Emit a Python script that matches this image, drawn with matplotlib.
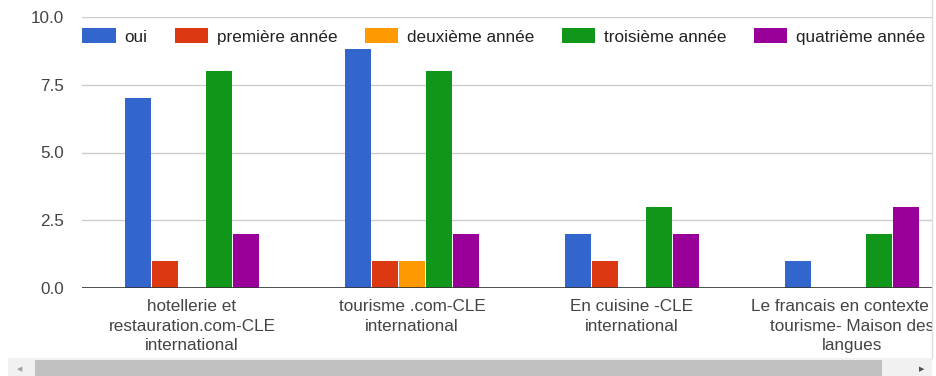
import matplotlib.pyplot as plt
from matplotlib.patches import Rectangle
from matplotlib.lines import Line2D

plt.rcParams['font.family'] = ['Liberation Sans', 'DejaVu Sans']

categories = ['hotellerie et\nrestauration.com-CLE\ninternational',
              'tourisme .com-CLE\ninternational',
              'En cuisine -CLE\ninternational',
              'Le francais en contexte de\ntourisme- Maison des\nlangues']
series = ['oui', 'première année', 'deuxième année', 'troisième année', 'quatrième année']
values = [
    [7, 9, 2, 1],
    [1, 1, 1, 0],
    [0, 1, 0, 0],
    [8, 8, 3, 2],
    [2, 2, 2, 3],
]
colors = ['#3366cc', '#dc3912', '#ff9900', '#109618', '#990099']

W, H = 937, 376
fig = plt.figure(figsize=(W / 100, H / 100), dpi=100)
# plot area runs past the right edge, like the scrolled chart
ax = fig.add_axes([82 / W, 88 / H, 880 / W, 271 / H])

step = 27 / 220
bw = 26 / 220
idx = range(len(categories))
for k, (name, vals, c) in enumerate(zip(series, values, colors)):
    ax.bar([i + (k - 2) * step for i in idx], vals, bw, color=c, label=name, zorder=3)

ax.set_xlim(-0.5, len(categories) - 0.5)
ax.set_ylim(0, 10)
ax.set_yticks([0, 2.5, 5, 7.5, 10])
ax.set_yticklabels([f'{t:.1f}' for t in [0, 2.5, 5, 7.5, 10]])
ax.set_xticks(list(idx))
ax.set_xticklabels(categories, linespacing=1.38)
ax.tick_params(axis='both', length=0, labelsize=12.3, colors='#444444')
ax.tick_params(axis='y', pad=13)
ax.tick_params(axis='x', pad=8)
for s in ax.spines.values():
    s.set_visible(False)
ax.grid(axis='y', color='#cccccc', linewidth=1, zorder=0)
ax.axhline(0, color='#333333', linewidth=1.2, zorder=4)

leg = ax.legend(loc='upper left', bbox_to_anchor=(-0.0045, 0.974), ncol=5, frameon=True,
                fontsize=12.3, handlelength=1.95, handleheight=0.95, handletextpad=0.5,
                columnspacing=1.62, borderaxespad=0, borderpad=0.25, fancybox=False)
leg.get_frame().set_facecolor('white')
leg.get_frame().set_edgecolor('none')
leg.get_frame().set_alpha(1)
leg.get_frame().set_boxstyle('square', pad=0)
for t in leg.get_texts():
    t.set_color('#222222')

# right edge of the visible chart
fig.patches.append(Rectangle((932 / W, 0), 5 / W, 1, transform=fig.transFigure,
                             facecolor='white', edgecolor='none', zorder=10))
fig.lines.append(Line2D([932 / W, 932 / W], [18 / H, 1], transform=fig.transFigure,
                        color='#dddddd', linewidth=1, zorder=11))

# scrollbar
fig.patches.append(Rectangle((8 / W, 0), 924 / W, 18 / H, transform=fig.transFigure,
                             facecolor='#f1f1f1', edgecolor='none', zorder=10))
fig.patches.append(Rectangle((35 / W, 0), 847 / W, 16 / H, transform=fig.transFigure,
                             facecolor='#c1c1c1', edgecolor='none', zorder=11))
fig.text(20 / W, 7 / H, '◀', fontsize=5, color='#a0a0a0', ha='center', va='center',
         family='DejaVu Sans', zorder=12)
fig.text(922 / W, 7 / H, '▶', fontsize=5, color='#505050', ha='center', va='center',
         family='DejaVu Sans', zorder=12)

plt.savefig('out.png', dpi=100)
